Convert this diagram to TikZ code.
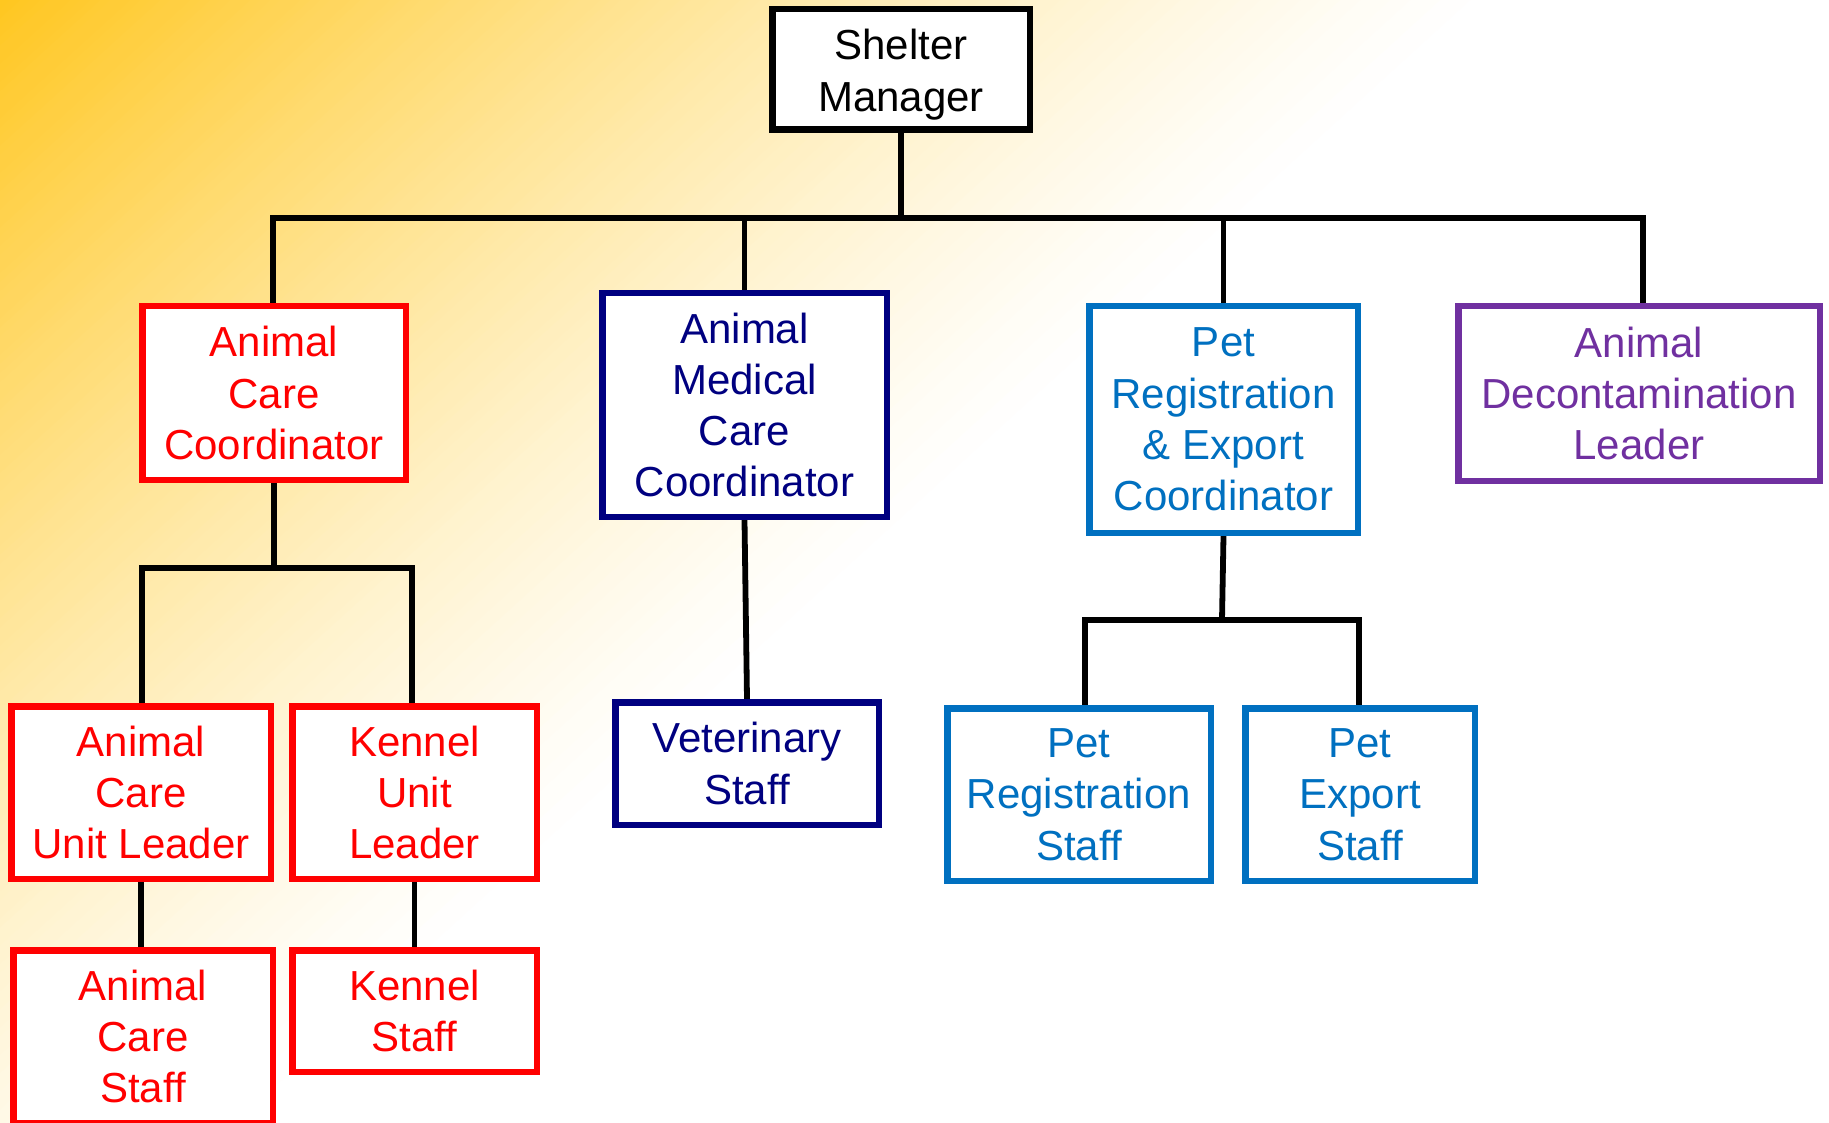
\documentclass[tikz,border=0pt]{standalone}
\usepackage{fontspec}
\setmainfont{Liberation Sans}
\usetikzlibrary{calc}
\definecolor{cred}{HTML}{FF0000}
\definecolor{cnavy}{HTML}{000080}
\definecolor{cblue}{HTML}{0070C0}
\definecolor{cpurple}{HTML}{7030A0}
\definecolor{bggold}{HTML}{FFC61E}
\pgfdeclarelayer{back}
\pgfdeclarelayer{lines}
\pgfsetlayers{back,lines,main}
\tikzset{
  box/.style={draw, fill=white, line width=6.5pt, inner sep=0pt, align=center,
    font=\fontsize{42}{51.3}\selectfont},
  blackbox/.style={box, draw=black, text=black},
  redbox/.style={box, draw=cred, text=cred},
  navybox/.style={box, draw=cnavy, text=cnavy},
  bluebox/.style={box, draw=cblue, text=cblue},
  purplebox/.style={box, draw=cpurple, text=cpurple},
  conn/.style={line width=5.8pt, draw=black, line cap=rect},
}
\begin{document}
\begin{tikzpicture}[x=1pt,y=-1pt]
\useasboundingbox (0,0) rectangle (1829,1123);
\begin{pgfonlayer}{back}
  \clip (0,0) rectangle (1829,1123);
  \fill[white] (0,0) rectangle (1829,1123);
  \foreach \c in {1500,1490,...,10} {
    \pgfmathtruncatemacro\p{100*(1-\c/1520)^1.3}
    \fill[bggold!\p!white] (0,0) -- (\c,0) -- (0,\c/1.1) -- cycle;
  }
\end{pgfonlayer}

% nodes
\node[blackbox, minimum width=257.5pt, minimum height=120.5pt] (sm) at (901,69.5) {\rule{0pt}{41pt}Shelter\\Manager};
\node[redbox, minimum width=263.5pt, minimum height=173.5pt] (acc) at (274,393) {Animal\\Care\\Coordinator};
\node[navybox, minimum width=284.5pt, minimum height=223.5pt] (amcc) at (744.5,405) {Animal\\Medical\\Care\\Coordinator};
\node[bluebox, minimum width=268.5pt, minimum height=226.5pt] (prec) at (1223.5,419.5) {Pet\\Registration\\\& Export\\Coordinator};
\node[purplebox, minimum width=361.5pt, minimum height=174.5pt] (adl) at (1639,393.5) {Animal\\Decontamination\\Leader};
\node[redbox, minimum width=259.5pt, minimum height=172.5pt] (acul) at (141,792.5) {Animal\\Care\\Unit Leader};
\node[redbox, minimum width=244.5pt, minimum height=172.5pt] (kul) at (414.5,792.5) {Kennel\\Unit\\Leader};
\node[redbox, minimum width=259.5pt, minimum height=172.5pt] (acs) at (143,1036.5) {Animal\\Care\\Staff};
\node[redbox, minimum width=244.5pt, minimum height=121.5pt] (ks) at (414.5,1011) {Kennel\\Staff};
\node[navybox, minimum width=263.5pt, minimum height=122.5pt] (vs) at (747,763.5) {Veterinary\\Staff};
\node[bluebox, minimum width=263.5pt, minimum height=172.5pt] (prs) at (1079,794.5) {Pet\\Registration\\Staff};
\node[bluebox, minimum width=229.5pt, minimum height=172.5pt] (pes) at (1360,794.5) {Pet\\Export\\Staff};

% bus coordinates
\coordinate (b0l) at (273,218);
\coordinate (b0r) at (1643,218);
\coordinate (b1l) at (142,568);
\coordinate (b1r) at (412,568);
\coordinate (b2l) at (1085,620);
\coordinate (b2r) at (1359,620);

\begin{pgfonlayer}{lines}
  \draw[conn] (sm.south) -- (sm.south |- b0l);
  \draw[conn] (b0l) -- (b0r);
  \draw[conn] (b0l) -- (b0l |- acc.north);
  \draw[conn] (amcc.north) -- (amcc.north |- b0l);
  \draw[conn] (prec.north) -- (prec.north |- b0l);
  \draw[conn] (b0r) -- (b0r |- adl.north);
  % animal care branch
  \draw[conn] (acc.south) -- (acc.south |- b1l);
  \draw[conn] (b1l) -- (b1r);
  \draw[conn] (b1l) -- (b1l |- acul.north);
  \draw[conn] (b1r) -- (b1r |- kul.north);
  \draw[conn] (acul.south) -- (acul.south |- acs.north);
  \draw[conn] (kul.south) -- (kul.south |- ks.north);
  % medical branch
  \draw[conn] (amcc.south) -- (vs.north);
  % pet branch
  \draw[conn] (prec.south) -- ($(b2l)!0.5!(b2r)$);
  \draw[conn] (b2l) -- (b2r);
  \draw[conn] (b2l) -- (b2l |- prs.north);
  \draw[conn] (b2r) -- (b2r |- pes.north);
\end{pgfonlayer}
\end{tikzpicture}
\end{document}
